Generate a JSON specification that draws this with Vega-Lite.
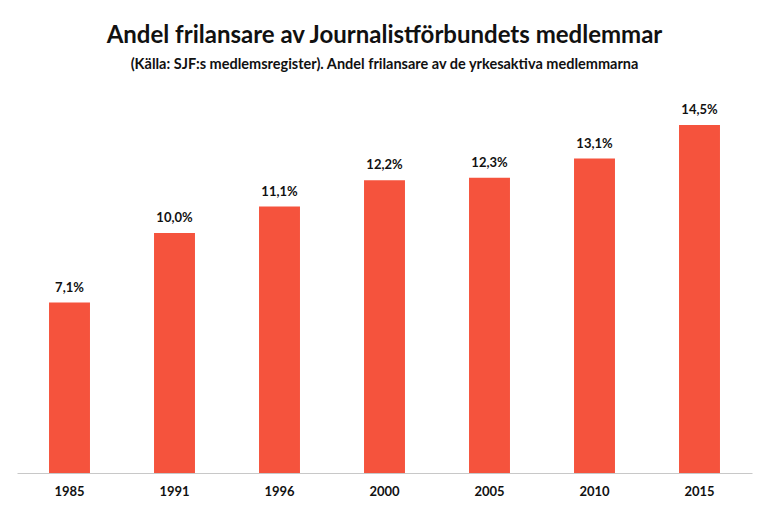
{
  "$schema": "https://vega.github.io/schema/vega-lite/v6.json",
  "autosize": "none",
  "width": 735,
  "height": 360,
  "padding": {"left": 17, "top": 113, "right": 18, "bottom": 39},
  "background": "white",
  "config": {
    "view": {"stroke": null},
    "font": "Lato",
    "locale": {"number": {"decimal": ",", "thousands": " ", "grouping": [3], "currency": ["", " kr"]}}
  },
  "title": {
    "text": "Andel frilansare av Journalistförbundets medlemmar",
    "subtitle": "(Källa: SJF:s medlemsregister). Andel frilansare av de yrkesaktiva medlemmarna",
    "anchor": "middle",
    "font": "Lato",
    "fontSize": 24,
    "fontWeight": "bold",
    "color": "#111111",
    "subtitleFont": "Lato",
    "subtitleFontSize": 14.5,
    "subtitleFontWeight": "bold",
    "subtitleColor": "#111111",
    "subtitlePadding": 10,
    "offset": 33
  },
  "data": {
    "values": [
      {"year": "1985", "share": 0.071},
      {"year": "1991", "share": 0.100},
      {"year": "1996", "share": 0.111},
      {"year": "2000", "share": 0.122},
      {"year": "2005", "share": 0.123},
      {"year": "2010", "share": 0.131},
      {"year": "2015", "share": 0.145}
    ]
  },
  "encoding": {
    "x": {
      "field": "year",
      "type": "ordinal",
      "scale": {"paddingInner": 0.61, "paddingOuter": 0.305},
      "axis": {
        "title": null,
        "labelAngle": 0,
        "ticks": false,
        "domainColor": "#c8c8c8",
        "domainWidth": 1,
        "labelFont": "Lato",
        "labelFontSize": 13,
        "labelFontWeight": "bold",
        "labelColor": "#111111",
        "labelPadding": 12
      }
    },
    "y": {
      "field": "share",
      "type": "quantitative",
      "scale": {"domain": [0, 0.15]},
      "axis": null
    }
  },
  "layer": [
    {"mark": {"type": "bar", "color": "#F5533D"}},
    {
      "mark": {"type": "text", "baseline": "bottom", "dy": -8, "font": "Lato", "fontSize": 13, "fontWeight": "bold", "color": "#111111"},
      "encoding": {"text": {"field": "share", "type": "quantitative", "format": ".1%"}}
    }
  ]
}
